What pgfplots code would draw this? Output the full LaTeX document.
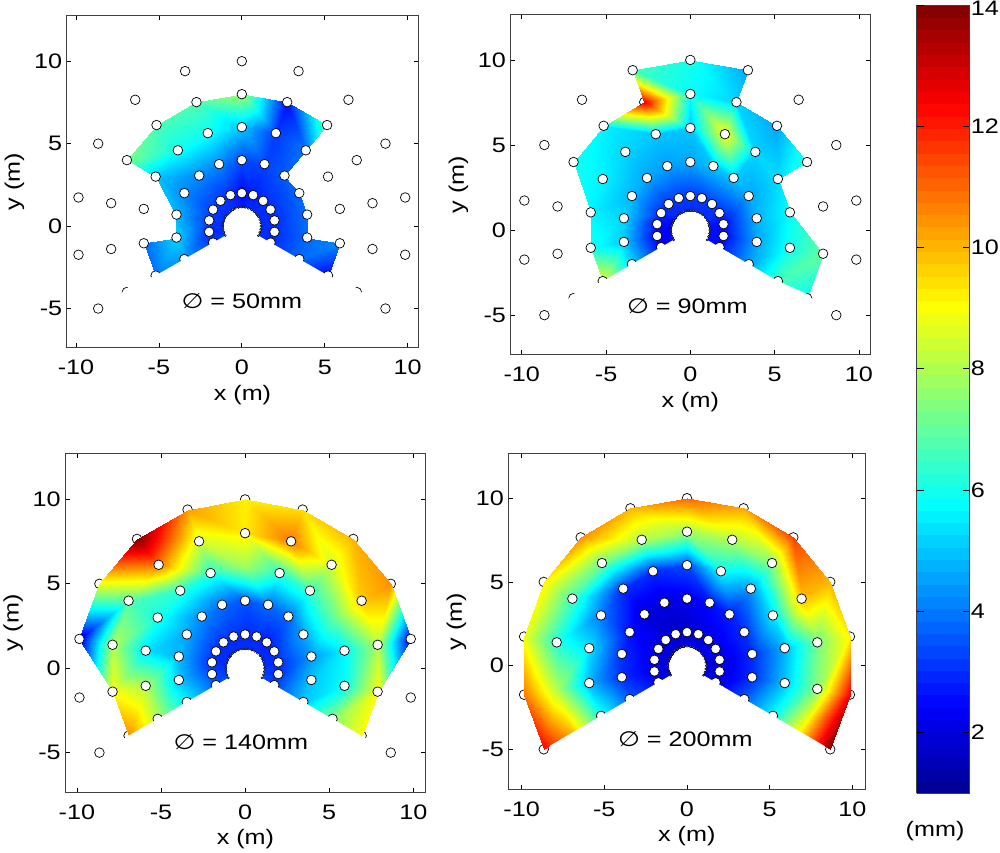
\documentclass[border=0pt]{standalone}
\usepackage{fontspec}
\setmainfont[FakeStretch=1.2]{Liberation Sans}
\newfontfamily\symb[FakeStretch=1.2]{DejaVu Sans}
\usepackage{pgfplots}
\usepackage{pgfplotstable}
\pgfplotsset{compat=1.18}
\newcommand{\fs}{\fontsize{21}{24}\selectfont}
\pgfplotsset{
  colormap={mjet}{rgb(0cm)=(0,0,0.5625) rgb(7cm)=(0,0,1) rgb(23cm)=(0,1,1) rgb(39cm)=(1,1,0) rgb(55cm)=(1,0,0) rgb(63cm)=(0.5,0,0)},
  panel/.style={
    scale only axis, anchor=south west, set layers=standard, clip mode=individual,
    colormap name=mjet, point meta min=1, point meta max=14,
    xtick={-10,-5,0,5,10}, ytick={-5,0,5,10},
    tick align=inside, tick pos=both, major tick length=4.5pt,
    axis line style={black!75, line width=0.9pt},
    tick style={black, line width=0.7pt},
    /pgf/number format/assume math mode=true,
    every tick label/.append style={font=\fs},
    xlabel={x (m)}, ylabel={y (m)},
    every axis label/.append style={font=\fs},
    xticklabel style={yshift=-9pt},
    yticklabel style={xshift=-1pt},
    xlabel shift=3pt,
    ylabel shift=3pt,
  },
  surfi/.style={patch, patch type=triangle, shader=interp, point meta=explicit, table/row sep=\\},
  pt/.style={only marks, mark=*, mark size=4.8pt, mark options={fill=white, draw=black, line width=0.7pt}},
  under/.style={pt, on layer=axis background},
  dot/.style={only marks, mark=*, mark size=1pt, mark options={fill=white, draw=black, line width=0.5pt}, on layer=axis foreground},
  maskp/.style={fill=white, draw=none, on layer=axis descriptions},
}
\pgfplotstableread{
x y c1 c2 c3 c4
0.996 -0.575 3.0 2.6 3.4 2.0
1.732 -1.000 3.0 2.6 3.2 2.0
3.464 -2.000 3.8 4.5 5.0 3.6
5.196 -3.000 2.5 6.6 7.5 5.8
6.928 -4.000 2.5 5.8 9.0 9.5
8.660 -5.000 2.5 5.8 8.8 14.0
1.133 -0.200 3.0 2.6 3.2 2.0
1.970 -0.347 3.0 2.5 3.0 2.0
3.939 -0.695 3.8 4.6 5.0 3.0
5.909 -1.042 4.2 6.0 5.8 5.0
7.878 -1.389 4.2 7.0 9.0 7.5
9.848 -1.736 4.2 7.0 8.6 12.5
1.133 0.200 3.0 2.6 3.0 2.0
1.970 0.347 3.0 2.6 3.0 2.0
3.939 0.695 3.9 4.8 4.4 3.0
5.909 1.042 3.9 5.8 5.6 4.8
7.878 1.389 3.9 5.8 8.0 7.2
9.848 1.736 3.9 5.8 2.2 9.2
0.996 0.575 3.0 3.0 3.0 2.2
1.732 1.000 3.0 3.0 3.0 2.2
3.464 2.000 3.8 4.6 4.6 3.0
5.196 3.000 3.8 5.3 7.0 5.5
6.928 4.000 3.8 6.3 9.8 9.9
8.660 5.000 3.8 6.3 10.5 10.0
0.739 0.881 3.0 3.0 3.0 2.2
1.286 1.532 3.0 3.2 2.8 2.2
2.571 3.064 3.6 5.0 3.8 2.8
3.857 4.596 4.0 5.2 6.4 4.4
5.142 6.128 7.0 4.6 8.5 7.5
6.428 7.660 7.0 4.6 10.0 11.5
0.393 1.081 3.0 3.0 3.0 2.2
0.684 1.879 2.8 3.2 3.0 2.0
1.368 3.759 3.3 5.0 3.8 2.6
2.052 5.638 3.2 9.0 6.3 5.8
2.736 7.518 2.6 5.2 10.8 8.0
3.420 9.397 2.6 4.6 9.5 10.2
0.000 1.150 2.8 3.0 3.0 2.0
0.000 2.000 2.5 3.2 3.0 1.8
0.000 4.000 3.4 4.6 3.5 2.2
0.000 6.000 5.0 5.0 7.8 3.4
0.000 8.000 7.8 5.8 9.3 7.8
0.000 10.000 7.8 6.0 9.2 11.0
-0.393 1.081 3.0 3.0 3.0 2.0
-0.684 1.879 3.0 3.2 3.0 1.8
-1.368 3.759 4.2 4.5 3.8 2.0
-2.052 5.638 5.9 5.0 6.2 3.0
-2.736 7.518 6.8 12.5 8.5 8.0
-3.420 9.397 6.8 6.6 10.3 10.0
-0.739 0.881 3.0 3.0 3.0 2.0
-1.286 1.532 3.2 3.0 3.0 2.0
-2.571 3.064 4.2 4.6 4.2 2.0
-3.857 4.596 5.9 5.2 6.2 3.0
-5.142 6.128 6.7 5.6 10.8 7.2
-6.428 7.660 6.7 5.6 14.0 10.5
-0.996 0.575 3.0 2.6 3.0 2.0
-1.732 1.000 3.2 3.0 3.0 2.0
-3.464 2.000 4.2 4.8 4.6 2.6
-5.196 3.000 5.0 5.6 6.0 4.0
-6.928 4.000 7.3 6.0 6.8 6.6
-8.660 5.000 7.3 6.0 8.8 9.2
-1.133 0.200 3.0 2.5 3.0 2.0
-1.970 0.347 3.2 2.6 3.0 2.2
-3.939 0.695 4.8 5.2 4.8 3.0
-5.909 1.042 4.8 5.6 5.4 5.4
-7.878 1.389 4.8 5.6 8.0 6.2
-9.848 1.736 4.8 5.6 2.0 8.8
-1.133 -0.200 3.0 2.4 3.2 2.0
-1.970 -0.347 3.0 2.4 3.4 2.2
-3.939 -0.695 5.2 5.0 5.0 3.0
-5.909 -1.042 3.8 6.0 8.0 4.8
-7.878 -1.389 3.8 6.0 9.0 8.0
-9.848 -1.736 3.8 6.0 8.4 10.8
-0.996 -0.575 3.4 2.6 3.6 2.2
-1.732 -1.000 3.2 2.4 3.6 2.4
-3.464 -2.000 4.5 5.2 5.6 3.6
-5.196 -3.000 4.0 8.6 8.0 6.0
-6.928 -4.000 4.0 8.6 10.5 10.0
-8.660 -5.000 4.0 8.6 10.5 12.3
}\nodesT
% Triangles of each panel
\def\triA{%
0 1 7\\0 7 6\\1 2 8\\1 8 7\\6 7 13\\6 13 12\\7 8 14\\7 14 13\\12 13 19\\12 19 18\\13 14 20\\13 20 19\\
18 19 25\\18 25 24\\19 20 26\\19 26 25\\24 25 31\\24 31 30\\25 26 32\\25 32 31\\30 31 37\\30 37 36\\31 32 38\\31 38 37\\
36 37 43\\36 43 42\\37 38 44\\37 44 43\\42 43 49\\42 49 48\\43 44 50\\43 50 49\\48 49 55\\48 55 54\\49 50 56\\49 56 55\\
54 55 61\\54 61 60\\55 56 62\\55 62 61\\60 61 67\\60 67 66\\61 62 68\\61 68 67\\66 67 73\\66 73 72\\67 68 74\\67 74 73\\
2 3 9\\2 9 8\\26 27 33\\26 33 32\\32 33 39\\32 39 38\\38 39 45\\38 45 44\\44 45 51\\44 51 50\\50 51 57\\50 57 56\\
56 57 62\\68 69 75\\68 75 74\\
27 28 34\\27 34 33\\33 34 40\\33 40 39\\39 40 46\\39 46 45\\45 46 52\\45 52 51\\51 52 58\\51 58 57\\%
}
\def\triB{%
0 1 7\\0 7 6\\1 2 8\\1 8 7\\6 7 13\\6 13 12\\7 8 14\\7 14 13\\12 13 19\\12 19 18\\13 14 20\\13 20 19\\
18 19 25\\18 25 24\\19 20 26\\19 26 25\\24 25 31\\24 31 30\\25 26 32\\25 32 31\\30 31 37\\30 37 36\\31 32 38\\31 38 37\\
36 37 43\\36 43 42\\37 38 44\\37 44 43\\42 43 49\\42 49 48\\43 44 50\\43 50 49\\48 49 55\\48 55 54\\49 50 56\\49 56 55\\
54 55 61\\54 61 60\\55 56 62\\55 62 61\\60 61 67\\60 67 66\\61 62 68\\61 68 67\\66 67 73\\66 73 72\\67 68 74\\67 74 73\\
2 3 9\\2 9 8\\8 9 15\\8 15 14\\14 15 21\\14 21 20\\20 21 27\\20 27 26\\26 27 33\\26 33 32\\32 33 39\\32 39 38\\
38 39 45\\38 45 44\\44 45 51\\44 51 50\\50 51 57\\50 57 56\\56 57 63\\56 63 62\\62 63 69\\62 69 68\\68 69 75\\68 75 74\\
3 4 10\\3 10 9\\9 10 15\\21 22 28\\21 28 27\\27 28 34\\27 34 33\\33 34 40\\33 40 39\\39 40 46\\39 46 45\\45 46 52\\45 52 51\\51 52 58\\51 58 57\\57 58 63\\
34 35 41\\34 41 40\\40 41 47\\40 47 46\\%
}
\def\triC{%
0 1 7\\0 7 6\\1 2 8\\1 8 7\\6 7 13\\6 13 12\\7 8 14\\7 14 13\\12 13 19\\12 19 18\\13 14 20\\13 20 19\\
18 19 25\\18 25 24\\19 20 26\\19 26 25\\24 25 31\\24 31 30\\25 26 32\\25 32 31\\30 31 37\\30 37 36\\31 32 38\\31 38 37\\
36 37 43\\36 43 42\\37 38 44\\37 44 43\\42 43 49\\42 49 48\\43 44 50\\43 50 49\\48 49 55\\48 55 54\\49 50 56\\49 56 55\\
54 55 61\\54 61 60\\55 56 62\\55 62 61\\60 61 67\\60 67 66\\61 62 68\\61 68 67\\66 67 73\\66 73 72\\67 68 74\\67 74 73\\
2 3 9\\2 9 8\\8 9 15\\8 15 14\\14 15 21\\14 21 20\\20 21 27\\20 27 26\\26 27 33\\26 33 32\\32 33 39\\32 39 38\\
38 39 45\\38 45 44\\44 45 51\\44 51 50\\50 51 57\\50 57 56\\56 57 63\\56 63 62\\62 63 69\\62 69 68\\68 69 75\\68 75 74\\
3 4 10\\3 10 9\\9 10 16\\9 16 15\\15 16 22\\15 22 21\\21 22 28\\21 28 27\\27 28 34\\27 34 33\\33 34 40\\33 40 39\\
39 40 46\\39 46 45\\45 46 52\\45 52 51\\51 52 58\\51 58 57\\57 58 64\\57 64 63\\63 64 70\\63 70 69\\69 70 76\\69 76 75\\
10 17 16\\16 17 23\\16 23 22\\22 23 29\\22 29 28\\28 29 35\\28 35 34\\34 35 41\\34 41 40\\40 41 47\\40 47 46\\
46 47 53\\46 53 52\\52 53 59\\52 59 58\\58 59 65\\58 65 64\\64 65 70\\%
}
\def\triD{%
0 1 7\\0 7 6\\1 2 8\\1 8 7\\6 7 13\\6 13 12\\7 8 14\\7 14 13\\12 13 19\\12 19 18\\13 14 20\\13 20 19\\
18 19 25\\18 25 24\\19 20 26\\19 26 25\\24 25 31\\24 31 30\\25 26 32\\25 32 31\\30 31 37\\30 37 36\\31 32 38\\31 38 37\\
36 37 43\\36 43 42\\37 38 44\\37 44 43\\42 43 49\\42 49 48\\43 44 50\\43 50 49\\48 49 55\\48 55 54\\49 50 56\\49 56 55\\
54 55 61\\54 61 60\\55 56 62\\55 62 61\\60 61 67\\60 67 66\\61 62 68\\61 68 67\\66 67 73\\66 73 72\\67 68 74\\67 74 73\\
2 3 9\\2 9 8\\8 9 15\\8 15 14\\14 15 21\\14 21 20\\20 21 27\\20 27 26\\26 27 33\\26 33 32\\32 33 39\\32 39 38\\
38 39 45\\38 45 44\\44 45 51\\44 51 50\\50 51 57\\50 57 56\\56 57 63\\56 63 62\\62 63 69\\62 69 68\\68 69 75\\68 75 74\\
3 4 10\\3 10 9\\9 10 16\\9 16 15\\15 16 22\\15 22 21\\21 22 28\\21 28 27\\27 28 34\\27 34 33\\33 34 40\\33 40 39\\
39 40 46\\39 46 45\\45 46 52\\45 52 51\\51 52 58\\51 58 57\\57 58 64\\57 64 63\\63 64 70\\63 70 69\\69 70 76\\69 76 75\\
4 5 11\\4 11 10\\10 11 17\\10 17 16\\16 17 23\\16 23 22\\22 23 29\\22 29 28\\28 29 35\\28 35 34\\34 35 41\\34 41 40\\
40 41 47\\40 47 46\\46 47 53\\46 53 52\\52 53 59\\52 59 58\\58 59 65\\58 65 64\\64 65 71\\64 71 70\\70 71 77\\70 77 76\\%
}
% Measurement points that are over the surface in all panels
\pgfplotstableread{
x y
1.732 -1.000
1.970 -0.347
1.970 0.347
1.732 1.000
1.286 1.532
0.684 1.879
0 2
-0.684 1.879
-1.286 1.532
-1.732 1.000
-1.970 0.347
-1.970 -0.347
-1.732 -1.000
3.464 -2
3.939 -0.695
3.939 0.695
3.464 2
2.571 3.064
1.368 3.759
0 4
-1.368 3.759
-2.571 3.064
-3.464 2
-3.939 0.695
-3.939 -0.695
-3.464 -2
5.196 -3
5.909 -1.042
5.909 1.042
3.857 4.596
2.052 5.638
-2.052 5.638
-3.857 4.596
-5.196 3
-5.909 1.042
-5.909 -1.042
-5.196 -3
7.878 -1.389
7.878 1.389
6.928 4
5.142 6.128
2.736 7.518
0 8
-5.142 6.128
-6.928 4
-7.878 1.389
}\ptsBase
% Tiny points of the inner ring
\pgfplotstableread{
x y
0.996 -0.575
1.081 -0.393
1.133 -0.200
1.150 0
1.133 0.200
1.081 0.393
0.996 0.575
0.881 0.739
0.739 0.881
0.575 0.996
0.393 1.081
0.200 1.133
0 1.150
-0.200 1.133
-0.393 1.081
-0.575 0.996
-0.739 0.881
-0.881 0.739
-0.996 0.575
-1.081 0.393
-1.133 0.200
-1.150 0
-1.133 -0.200
-1.081 -0.393
-0.996 -0.575
}\ptsInner
\begin{document}
\begin{tikzpicture}[x=1pt,y=1pt]
\path (0,0) rectangle (1000,853);
% --- panel 1
\begin{axis}[panel, at={(65.7pt,505pt)}, width=352pt, height=332.3pt,
  xmin=-10.56, xmax=10.64, ymin=-7.37, ymax=12.76]
\addplot[surfi, patch table/.expand once=\triA] table[x=x,y=y,meta=c1] {\nodesT};
\addplot[pt] table[x=x,y=y] {\ptsBase};
\addplot[pt] coordinates {(0,6)(5.196,3)(6.928,-4)(-6.928,-4)(-7.878,-1.389)(-2.736,7.518)
 (8.660,-5)(9.848,-1.736)(9.848,1.736)(8.660,5)(6.428,7.660)(3.420,9.397)(0,10)(-3.420,9.397)(-6.428,7.660)(-8.660,5)(-9.848,1.736)(-9.848,-1.736)(-8.660,-5)};
\addplot[maskp] coordinates {(0.95,-0.55)(5.2,-3.0)(6.93,-3.75)(7.6,-4.39)(8.3,-4.79)(8.3,-5.6)(0,-1.5)(-8.3,-5.6)(-8.3,-4.79)(-7.6,-4.39)(-6.93,-3.75)(-5.2,-3.0)(-0.95,-0.55)} -- cycle;
\addplot[dot] table[x=x,y=y] {\ptsInner};
\end{axis}
% --- panel 2
\begin{axis}[panel, at={(510pt,498pt)}, width=360pt, height=340.3pt,
  xmin=-10.67, xmax=10.67, ymin=-7.32, ymax=12.66]
\addplot[under] coordinates {(-2.736,7.518)};
\addplot[surfi, patch table/.expand once=\triB] table[x=x,y=y,meta=c2] {\nodesT};
\addplot[pt] table[x=x,y=y] {\ptsBase};
\addplot[pt] coordinates {(0,6)(5.196,3)(6.928,-4)(-6.928,-4)(-7.878,-1.389)
 (8.660,-5)(9.848,-1.736)(9.848,1.736)(8.660,5)(6.428,7.660)(3.420,9.397)(0,10)(-3.420,9.397)(-6.428,7.660)(-8.660,5)(-9.848,1.736)(-9.848,-1.736)(-8.660,-5)};
\addplot[maskp] coordinates {(0.95,-0.55)(5.2,-3.0)(6.93,-3.75)(7.6,-4.39)(8.3,-4.79)(8.3,-5.6)(0,-1.5)(-8.3,-5.6)(-8.3,-4.79)(-7.6,-4.39)(-6.93,-3.75)(-5.2,-3.0)(-0.95,-0.55)} -- cycle;
\addplot[dot] table[x=x,y=y] {\ptsInner};
\end{axis}
% --- panel 3
\begin{axis}[panel, at={(64.3pt,59.7pt)}, width=360.7pt, height=339pt,
  xmin=-10.69, xmax=10.73, ymin=-7.36, ymax=12.7]
\addplot[under] coordinates {(0,6)(5.196,3)(6.928,-4)(-6.928,-4)(0,10)(3.420,9.397)(-3.420,9.397)(6.428,7.660)(-6.428,7.660)(8.660,5)(-8.660,5)};
\addplot[surfi, patch table/.expand once=\triC] table[x=x,y=y,meta=c3] {\nodesT};
\addplot[pt] table[x=x,y=y] {\ptsBase};
\addplot[pt] coordinates {(-7.878,-1.389)(-2.736,7.518)(9.848,-1.736)(9.848,1.736)(-9.848,1.736)(-9.848,-1.736)(8.660,-5)(-8.660,-5)};
\addplot[maskp] coordinates {(0.95,-0.55)(8.3,-4.79)(8.3,-5.6)(0,-1.5)(-8.3,-5.6)(-8.3,-4.79)(-0.95,-0.55)} -- cycle;
\addplot[dot] table[x=x,y=y] {\ptsInner};
\end{axis}
% --- panel 4 and the colour bar
\begin{axis}[panel, at={(508pt,63pt)}, width=357pt, height=335.7pt,
  xmin=-10.79, xmax=10.77, ymin=-7.38, ymax=12.65,
  colorbar, colorbar sampled,
  colorbar style={
    at={(parent axis.south west)}, anchor=south west, xshift=400pt, yshift=-4pt,
    width=53pt, height=789pt, samples=65,
    ytick={2,4,6,8,10,12,14}, xtick=\empty,
    yticklabels={2,4,6,8,10,12,\raisebox{-11pt}[0pt][0pt]{14}},
    yticklabel pos=right, ytick pos=both, tick align=inside, major tick length=7pt,
    axis line style={black!75, line width=0.9pt},
    tick style={black, line width=0.7pt},
    /pgf/number format/assume math mode=true,
    yticklabel style={font=\fs, inner sep=0pt, xshift=1pt},
  }]
\addplot[under] coordinates {(6.928,-4)(-6.928,-4)(-7.878,-1.389)(8.660,-5)(9.848,-1.736)(9.848,1.736)(8.660,5)(6.428,7.660)(3.420,9.397)(0,10)(-3.420,9.397)(-6.428,7.660)(-8.660,5)(-9.848,1.736)(-9.848,-1.736)(-8.660,-5)};
\addplot[surfi, patch table/.expand once=\triD] table[x=x,y=y,meta=c4] {\nodesT};
\addplot[pt] table[x=x,y=y] {\ptsBase};
\addplot[pt] coordinates {(0,6)(5.196,3)(-2.736,7.518)};
\addplot[maskp] coordinates {(0.95,-0.55)(8.3,-4.79)(8.3,-5.6)(0,-1.5)(-8.3,-5.6)(-8.3,-4.79)(-0.95,-0.55)} -- cycle;
\addplot[dot] table[x=x,y=y] {\ptsInner};
\end{axis}
\node[font=\fs] at (241,552) {{\symb\char"2205} = 50mm};
\node[font=\fs] at (687,547) {{\symb\char"2205} = 90mm};
\node[font=\fs] at (240,110) {{\symb\char"2205} = 140mm};
\node[font=\fs] at (685,113) {{\symb\char"2205} = 200mm};
\node[font=\fs] at (935,21) {(mm)};
\end{tikzpicture}
\end{document}
